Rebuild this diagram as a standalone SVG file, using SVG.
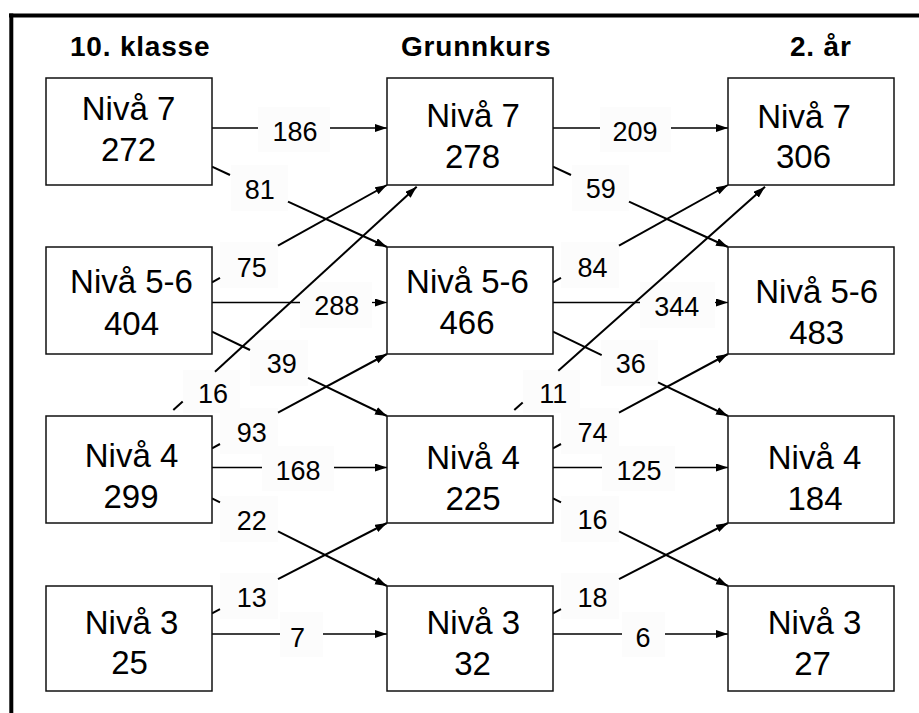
<svg xmlns="http://www.w3.org/2000/svg" width="919" height="713" viewBox="0 0 919 713">
<style>
.box{fill:#fff;stroke:#111;stroke-width:1.5}
.nt{font-family:"Liberation Sans",Arial,sans-serif;font-size:33px;text-anchor:middle;fill:#000}
.hd{font-family:"Liberation Sans",Arial,sans-serif;font-size:28px;font-weight:bold;letter-spacing:0.8px;fill:#000}
.lb{font-family:"Liberation Sans",Arial,sans-serif;font-size:27px;text-anchor:middle;fill:#000}
.bg{fill:#fcfcfc;stroke:none}
.h{fill:none;stroke:#000;stroke-width:1.3}
.d{fill:none;stroke:#000;stroke-width:2}
</style>
<defs>
<marker id="ah" markerUnits="userSpaceOnUse" markerWidth="13" markerHeight="9" refX="12" refY="4" orient="auto">
<path d="M0,0 L12,4 L0,8 z" fill="#000"/>
</marker>
</defs>
<rect width="919" height="713" fill="#fff"/>
<g id="frame" stroke="#000" stroke-width="4" fill="none">
<line x1="9" y1="15.5" x2="919" y2="15.5"/>
<line x1="11.3" y1="13.5" x2="11.3" y2="713"/>
</g>
<g id="headings">
<text class="hd" x="70" y="56">10. klasse</text>
<text class="hd" x="401" y="56">Grunnkurs</text>
<text class="hd" x="790" y="56">2. år</text>
</g>
<g id="label-backgrounds">
<rect class="bg" x="258" y="107" width="72" height="45"/>
<rect class="bg" x="300" y="282" width="72" height="46"/>
<rect class="bg" x="262" y="446" width="72" height="45"/>
<rect class="bg" x="280" y="612" width="43" height="45"/>
<rect class="bg" x="600" y="107" width="71" height="45"/>
<rect class="bg" x="640" y="282" width="75" height="46"/>
<rect class="bg" x="602" y="446" width="73" height="45"/>
<rect class="bg" x="622" y="612" width="43" height="45"/>
<rect class="bg" x="231" y="165" width="57" height="46"/>
<rect class="bg" x="220" y="242" width="58" height="46"/>
<rect class="bg" x="250" y="340" width="58" height="46"/>
<rect class="bg" x="183" y="370" width="57" height="43"/>
<rect class="bg" x="220" y="408" width="58" height="46"/>
<rect class="bg" x="220" y="496" width="58" height="46"/>
<rect class="bg" x="220" y="573" width="58" height="46"/>
<rect class="bg" x="572" y="165" width="57" height="46"/>
<rect class="bg" x="561" y="242" width="58" height="46"/>
<rect class="bg" x="601" y="340" width="57" height="46"/>
<rect class="bg" x="523" y="370" width="57" height="43"/>
<rect class="bg" x="561" y="408" width="58" height="46"/>
<rect class="bg" x="561" y="496" width="58" height="46"/>
<rect class="bg" x="561" y="573" width="58" height="46"/>
</g>
<g id="connectors">
<path class="h" d="M212,128 H258"/><path class="h" d="M330,128 H387" marker-end="url(#ah)"/>
<path class="h" d="M212,302.5 H300"/><path class="h" d="M372,302.5 H387" marker-end="url(#ah)"/>
<path class="h" d="M212,467.5 H262"/><path class="h" d="M334,467.5 H387" marker-end="url(#ah)"/>
<path class="h" d="M212,634 H280"/><path class="h" d="M323,634 H387" marker-end="url(#ah)"/>
<path class="h" d="M553,128 H600"/><path class="h" d="M671,128 H728" marker-end="url(#ah)"/>
<path class="h" d="M553,302.5 H640"/><path class="h" d="M715,302.5 H728" marker-end="url(#ah)"/>
<path class="h" d="M553,467.5 H602"/><path class="h" d="M675,467.5 H728" marker-end="url(#ah)"/>
<path class="h" d="M553,634 H622"/><path class="h" d="M665,634 H728" marker-end="url(#ah)"/>
<path class="d" d="M212,166.7 L230,175"/><path class="d" d="M288,201.6 L387,247" marker-end="url(#ah)"/>
<path class="d" d="M212,282.3 L220,277.9"/><path class="d" d="M278,245.6 L387,185" marker-end="url(#ah)"/>
<path class="d" d="M212,331.7 L250,350"/><path class="d" d="M308,377.9 L387,416" marker-end="url(#ah)"/>
<path class="d" d="M173.3,410 L182.7,401.4"/><path class="d" d="M215,371.7 L416.7,186.7" marker-end="url(#ah)"/>
<path class="d" d="M212,448.3 L220,444"/><path class="d" d="M278,412.7 L387,354" marker-end="url(#ah)"/>
<path class="d" d="M212,498.3 L220,502.3"/><path class="d" d="M278,531.4 L387,586" marker-end="url(#ah)"/>
<path class="d" d="M212,613.3 L220,609.2"/><path class="d" d="M278,579.2 L387,523" marker-end="url(#ah)"/>
<path class="d" d="M553,166.7 L571,175"/><path class="d" d="M629,201.6 L728,247" marker-end="url(#ah)"/>
<path class="d" d="M553,282.3 L561,277.9"/><path class="d" d="M619,245.6 L728,185" marker-end="url(#ah)"/>
<path class="d" d="M553,331.7 L601.7,355.2"/><path class="d" d="M658,382.3 L728,416" marker-end="url(#ah)"/>
<path class="d" d="M514.3,410 L522.7,402.5"/><path class="d" d="M558.3,370.8 L765,186.7" marker-end="url(#ah)"/>
<path class="d" d="M553,448.3 L561,444"/><path class="d" d="M619,412.7 L728,354" marker-end="url(#ah)"/>
<path class="d" d="M553,498.3 L561,502.3"/><path class="d" d="M619,531.4 L728,586" marker-end="url(#ah)"/>
<path class="d" d="M553,613.3 L561,609.2"/><path class="d" d="M619,579.2 L728,523" marker-end="url(#ah)"/>
</g>
<g id="labels">
<text class="lb" x="295" y="140.7">186</text>
<text class="lb" x="336.7" y="315">288</text>
<text class="lb" x="298" y="480">168</text>
<text class="lb" x="297.5" y="646.7">7</text>
<text class="lb" x="635" y="140.5">209</text>
<text class="lb" x="676.7" y="316">344</text>
<text class="lb" x="639" y="480">125</text>
<text class="lb" x="643" y="646.7">6</text>
<text class="lb" x="259.7" y="199">81</text>
<text class="lb" x="251.7" y="276.7">75</text>
<text class="lb" x="281.7" y="373.3">39</text>
<text class="lb" x="213" y="403.3">16</text>
<text class="lb" x="251.7" y="441.7">93</text>
<text class="lb" x="251.7" y="530">22</text>
<text class="lb" x="251.7" y="607.3">13</text>
<text class="lb" x="600.8" y="198.3">59</text>
<text class="lb" x="592.5" y="276.7">84</text>
<text class="lb" x="630.8" y="372.7">36</text>
<text class="lb" x="553.3" y="403.3">11</text>
<text class="lb" x="592.5" y="441.7">74</text>
<text class="lb" x="592.5" y="529.3">16</text>
<text class="lb" x="592.5" y="607.3">18</text>
</g>
<g id="n-10-7"><rect class="box" x="46" y="78" width="166" height="107"/><text class="nt" x="128.5" y="120">Nivå 7</text><text class="nt" x="128.5" y="161">272</text></g>
<g id="n-10-56"><rect class="box" x="46" y="247" width="166" height="107"/><text class="nt" x="131.5" y="293.3">Nivå 5-6</text><text class="nt" x="131.5" y="335">404</text></g>
<g id="n-10-4"><rect class="box" x="46" y="416" width="166" height="107"/><text class="nt" x="131.5" y="467">Nivå 4</text><text class="nt" x="131" y="508.3">299</text></g>
<g id="n-10-3"><rect class="box" x="46" y="586" width="166" height="105"/><text class="nt" x="131.5" y="634">Nivå 3</text><text class="nt" x="129.5" y="674">25</text></g>
<g id="n-gk-7"><rect class="box" x="387" y="78" width="166" height="107"/><text class="nt" x="473" y="126.7">Nivå 7</text><text class="nt" x="472.5" y="168.3">278</text></g>
<g id="n-gk-56"><rect class="box" x="387" y="247" width="166" height="107"/><text class="nt" x="467.5" y="292.7">Nivå 5-6</text><text class="nt" x="467" y="334">466</text></g>
<g id="n-gk-4"><rect class="box" x="387" y="416" width="166" height="107"/><text class="nt" x="473" y="468.5">Nivå 4</text><text class="nt" x="473" y="510">225</text></g>
<g id="n-gk-3"><rect class="box" x="387" y="586" width="166" height="105"/><text class="nt" x="473.3" y="634">Nivå 3</text><text class="nt" x="472.5" y="675">32</text></g>
<g id="n-2-7"><rect class="box" x="728" y="78" width="166" height="107"/><text class="nt" x="804" y="127.7">Nivå 7</text><text class="nt" x="803.5" y="168.3">306</text></g>
<g id="n-2-56"><rect class="box" x="728" y="247" width="166" height="107"/><text class="nt" x="816.7" y="302.7">Nivå 5-6</text><text class="nt" x="816.7" y="344.3">483</text></g>
<g id="n-2-4"><rect class="box" x="728" y="416" width="166" height="107"/><text class="nt" x="814.5" y="468.5">Nivå 4</text><text class="nt" x="815" y="510">184</text></g>
<g id="n-2-3"><rect class="box" x="728" y="586" width="166" height="105"/><text class="nt" x="814.5" y="634">Nivå 3</text><text class="nt" x="812.5" y="675">27</text></g>
</svg>
